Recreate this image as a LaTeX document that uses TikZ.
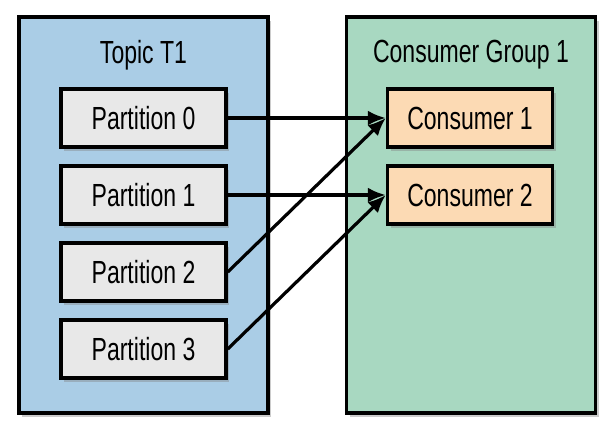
\documentclass[tikz,border=0pt]{standalone}
\usepackage{fontspec}
\setsansfont{Liberation Sans}[FakeStretch=0.72]
\usepackage{tikz}
\usetikzlibrary{arrows.meta, positioning, shadows}
\definecolor{topicblue}{RGB}{170,205,230}
\definecolor{groupgreen}{RGB}{168,216,193}
\definecolor{partgray}{RGB}{232,232,232}
\definecolor{consumerpeach}{RGB}{252,218,180}
\tikzset{
    groupbox/.style={rectangle, draw=black, line width=3.5pt, minimum width=249pt, minimum height=396pt, drop shadow={shadow xshift=3pt, shadow yshift=-4pt, opacity=0.4}},
    partbox/.style={rectangle, draw=black, line width=3.5pt, fill=partgray, minimum width=165pt, minimum height=58pt, inner sep=0pt, font=\sffamily\fontsize{32}{32}\selectfont, drop shadow={shadow xshift=3pt, shadow yshift=-4pt, opacity=0.4}},
    consumerbox/.style={partbox, fill=consumerpeach},
    titlelabel/.style={font=\sffamily\fontsize{32}{32}\selectfont, inner sep=0pt},
    feedarrow/.style={-{Latex[length=18pt,width=15pt]}, line width=3.2pt}
}
\begin{document}
\begin{tikzpicture}[x=1pt, y=-1pt]
    \useasboundingbox (0,0) rectangle (614,431);
    \node[groupbox, fill=topicblue] (topic) at (143.5,215) {};
    \node[groupbox, fill=groupgreen] (group) at (471,215) {};
    \node[titlelabel] (topictitle) at (143.5,55) {Topic T1};
    \node[titlelabel] (grouptitle) at (471,55) {Consumer Group 1};

    % Partitions
    \node[partbox] (p0) at (143.5,118) {Partition 0};
    \node[partbox] (p1) at (143.5,195) {Partition 1};
    \node[partbox] (p2) at (143.5,272) {Partition 2};
    \node[partbox] (p3) at (143.5,349) {Partition 3};

    % Consumers
    \node[consumerbox] (c1) at (470,118) {Consumer 1};
    \node[consumerbox] (c2) at (470,195) {Consumer 2};

    \draw[feedarrow] (p0) -- (c1);
    \draw[feedarrow] (p1) -- (c2);
    \draw[feedarrow] (p2.east) -- (c1.west);
    \draw[feedarrow] (p3.east) -- (c2.west);
\end{tikzpicture}
\end{document}
